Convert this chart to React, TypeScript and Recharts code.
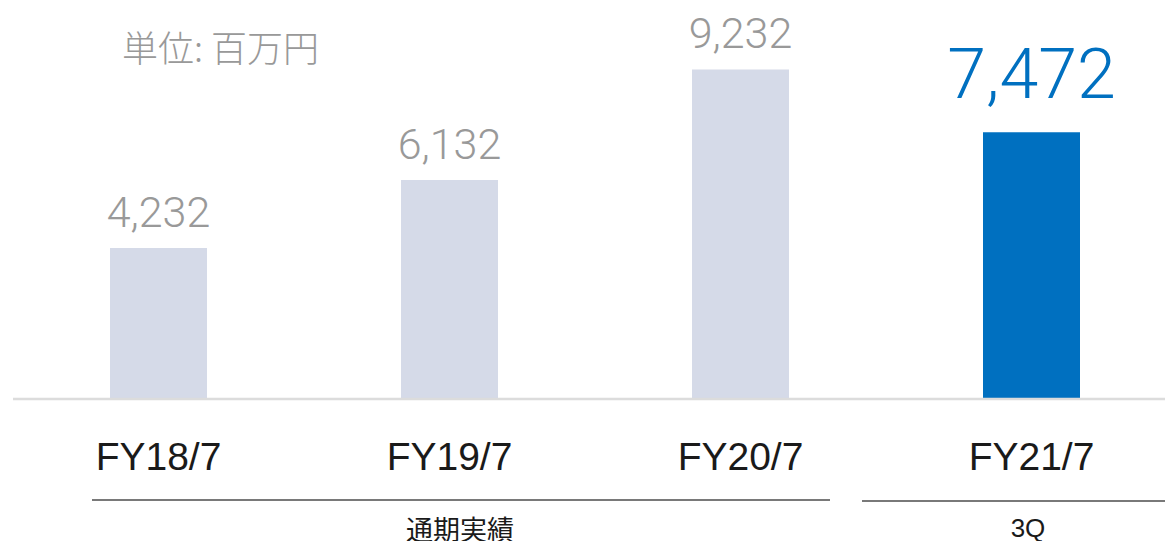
import { BarChart, Bar, XAxis, YAxis, LabelList, Cell } from "recharts";

const categories = ["FY18/7", "FY19/7", "FY20/7", "FY21/7"];
const values = [4232, 6132, 9232, 7472];
const highlight = [false, false, false, true];
const unitLabel = "単位: 百万円";
const groupLabels = ["通期実績", "3Q"];

const data = categories.map((c, i) => ({ name: c, value: values[i], hi: highlight[i] }));

const GRAY_BAR = "#d5dae8";
const BLUE = "#0070c0";
const GRAY_TEXT = "#999999";

const renderValueLabel = (props: any) => {
  const { x, y, width, value, index } = props;
  const hi = data[index]?.hi;
  const cx = Number(x) + Number(width) / 2;
  return (
    <text
      x={cx}
      y={Number(y) - (hi ? 34 : 21)}
      textAnchor="middle"
      fill={hi ? BLUE : GRAY_TEXT}
      fontSize={hi ? 70 : 43}
      fontFamily="Roboto, 'Helvetica Neue', Arial, sans-serif"
      fontWeight={300}
    >
      {Number(value).toLocaleString("en-US")}
    </text>
  );
};

export default function App() {
  return (
    <div
      style={{
        position: "absolute",
        left: 0,
        top: 0,
        width: 1165,
        height: 541,
        overflow: "hidden",
        background: "#fff",
      }}
    >
      <BarChart
        width={1190}
        height={541}
        data={data}
        margin={{ top: 42, right: 13, left: 13, bottom: 0 }}
      >
        <YAxis hide domain={[0, 10000]} />
        <XAxis
          dataKey="name"
          height={142}
          tickLine={false}
          tickSize={0}
          tickMargin={43}
          axisLine={{ stroke: "#dcdcdc", strokeWidth: 2.5 }}
          tick={{
            fill: "#1a1a1a",
            fontSize: 39,
            fontFamily: "'Liberation Sans', Arial, sans-serif",
          }}
        />
        <Bar dataKey="value" barSize={97} isAnimationActive={false}>
          {data.map((d, i) => (
            <Cell key={i} fill={d.hi ? BLUE : GRAY_BAR} />
          ))}
          <LabelList dataKey="value" content={renderValueLabel} />
        </Bar>
      </BarChart>

      {/* unit label and period groups under the axis */}
      <svg
        width={1165}
        height={541}
        style={{ position: "absolute", left: 0, top: 0, pointerEvents: "none" }}
      >
        <text
          x={122}
          y={62}
          fill={GRAY_TEXT}
          fontSize={36}
          fontWeight={300}
          fontFamily="'Noto Sans CJK JP', 'Noto Sans', sans-serif"
        >
          {unitLabel}
        </text>
        <line x1={92} x2={830} y1={500} y2={500} stroke="#4d4d4d" strokeWidth={1.5} />
        <line x1={862} x2={1165} y1={501} y2={501} stroke="#4d4d4d" strokeWidth={1.5} />
        <text
          x={460}
          y={540}
          textAnchor="middle"
          fill="#1a1a1a"
          fontSize={27}
          fontFamily="'Noto Sans CJK JP', sans-serif"
        >
          {groupLabels[0]}
        </text>
        <text
          x={1028}
          y={537}
          textAnchor="middle"
          fill="#1a1a1a"
          fontSize={26}
          fontFamily="'Liberation Sans', Arial, sans-serif"
        >
          {groupLabels[1]}
        </text>
      </svg>
    </div>
  );
}
